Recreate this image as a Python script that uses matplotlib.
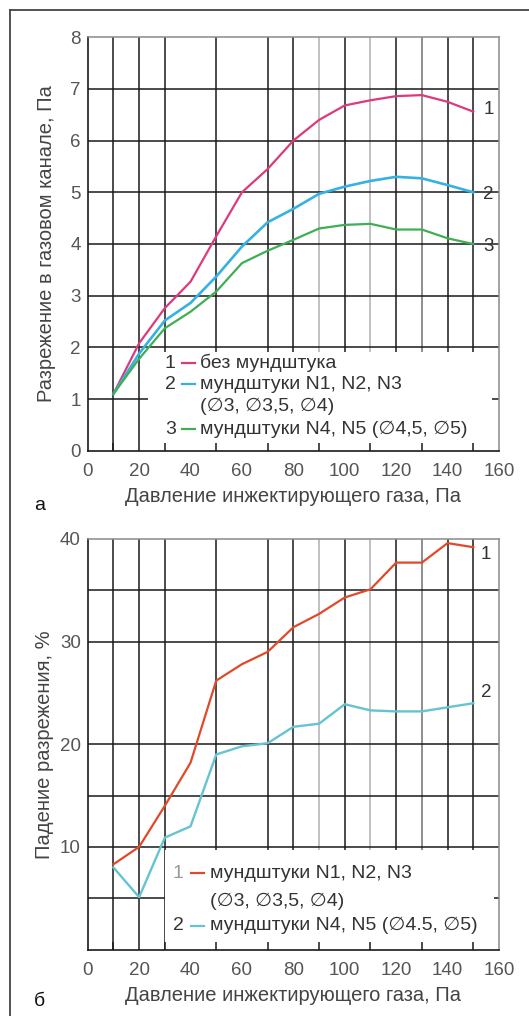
import matplotlib
matplotlib.use("Agg")
import matplotlib.pyplot as plt
from matplotlib.patches import Rectangle
from matplotlib.lines import Line2D

plt.rcParams['font.family'] = ['Liberation Sans', 'DejaVu Sans']

# ---------------- data ----------------
pressure = [10, 20, 30, 40, 50, 60, 70, 80, 90, 100, 110, 120, 130, 140, 150]

# chart a: vacuum in gas channel, Pa
vac_no_mouth = [1.1, 2.08, 2.76, 3.27, 4.15, 5.0, 5.45, 6.0, 6.4, 6.68, 6.78, 6.86, 6.88, 6.75, 6.56]
vac_n1_n3 = [1.1, 1.88, 2.52, 2.86, 3.37, 3.95, 4.42, 4.68, 4.97, 5.11, 5.22, 5.3, 5.27, 5.14, 5.0]
vac_n4_n5 = [1.1, 1.78, 2.37, 2.69, 3.08, 3.63, 3.87, 4.08, 4.3, 4.37, 4.39, 4.28, 4.28, 4.11, 4.0]

# chart b: vacuum drop, %
drop_n1_n3 = [8.3, 10.0, 14.0, 18.2, 26.2, 27.8, 29.0, 31.4, 32.7, 34.3, 35.1, 37.7, 37.7, 39.6, 39.2]
drop_n4_n5 = [8.0, 5.1, 10.9, 12.0, 19.0, 19.8, 20.1, 21.7, 22.0, 23.9, 23.3, 23.2, 23.2, 23.6, 24.0]

xticks = [0, 20, 40, 60, 80, 100, 120, 140, 160]
yticks_a = [0, 1, 2, 3, 4, 5, 6, 7, 8]
yticks_b = [10, 20, 30, 40]
vgrid = [10, 20, 30, 50, 70, 80, 90, 100, 110, 120, 130, 140, 150]
vgrid_light = [90, 110]
vgrid_mid = [130]
hgrid_a = [1, 2, 3, 4, 5, 6, 7]
hgrid_b = [5, 10, 15, 20, 30, 35]

xlabel = "Давление инжектирующего газа, Па"
ylabel_a = "Разрежение в газовом канале, Па"
ylabel_b = "Падение разрежения, %"

legend_a = [("1", "#dc3a7c", ["без мундштука"]),
            ("2", "#36b2e2", ["мундштуки N1, N2, N3", "(∅3, ∅3,5, ∅4)"]),
            ("3", "#3fae55", ["мундштуки N4, N5 (∅4,5, ∅5)"])]
legend_b = [("1", "#e04a2a", ["мундштуки N1, N2, N3", "(∅3, ∅3,5, ∅4)"]),
            ("2", "#66c3d2", ["мундштуки N4, N5 (∅4.5, ∅5)"])]

W, H = 529, 1016
fig = plt.figure(figsize=(W / 100, H / 100), dpi=100)

TICK_C = "#555555"
TXT_C = "#444444"
FS_TICK = 13.5
FS_LEG = 14
FS_LAB = 14.5

AX_L, AX_R = 87.7, 499.0


def fx(px):
    return px / W


def fy(py):
    return 1 - py / H


def axfx(px):
    return (px - AX_L) / (AX_R - AX_L)


def setup(ax, ymax, yticks, hgrid, legbox):
    ax.set_xlim(0, 160)
    ax.set_ylim(0, ymax)
    for x in vgrid:
        if x in vgrid_light:
            c = "#b0b0b0"
        elif x in vgrid_mid:
            c = "#707070"
        else:
            c = "#1a1a1a"
        ax.axvline(x, color=c, lw=1.1, zorder=1)
    for y in hgrid:
        ax.axhline(y, color="#1a1a1a", lw=1.1, zorder=1)
    ax.add_patch(Rectangle((legbox[0], legbox[1]), legbox[2], legbox[3],
                           transform=ax.transAxes, facecolor="white",
                           edgecolor="none", zorder=1.5))
    ax.set_xticks(xticks)
    ax.set_yticks(yticks)
    ax.set_xticks(vgrid, minor=True)
    ax.tick_params(axis="both", which="major", length=0, labelsize=FS_TICK,
                   labelcolor=TICK_C, pad=5)
    ax.tick_params(axis="x", which="major", pad=9)
    ax.tick_params(axis="x", which="minor", direction="in", length=6,
                   width=1.1, color="#1a1a1a")
    for s in ["left", "bottom"]:
        ax.spines[s].set_color("#1a1a1a")
        ax.spines[s].set_linewidth(1.2)
    for s in ["right", "top"]:
        ax.spines[s].set_color("#8a8a8a")
        ax.spines[s].set_linewidth(1.1)
    ax.set_axisbelow(False)


def draw_legend(ax, entries, xs, rows, num_colors):
    xn, xd0, xd1, xt = xs
    r = 0
    for (num, col, lines), nc in zip(entries, num_colors):
        y = rows[r]
        ax.text(xn, y, num, transform=ax.transAxes, fontsize=FS_LEG,
                color=nc, va="center", ha="left", zorder=4)
        ax.add_line(Line2D([xd0, xd1], [y, y], transform=ax.transAxes,
                           color=col, lw=1.6, zorder=4))
        for t in lines:
            ax.text(xt, rows[r], t, transform=ax.transAxes, fontsize=FS_LEG,
                    color="#333333", va="center", ha="left", zorder=4)
            r += 1


# -------- chart a --------
axa = fig.add_axes([fx(AX_L), fy(450.8), fx(AX_R) - fx(AX_L), fy(37.2) - fy(450.8)])
setup(axa, 8, yticks_a, hgrid_a, (0.147, 0.0, 0.835, 0.239))
axa.plot(pressure, vac_no_mouth, color=legend_a[0][1], lw=1.6, zorder=3)
axa.plot(pressure, vac_n1_n3, color=legend_a[1][1], lw=1.9, zorder=3)
axa.plot(pressure, vac_n4_n5, color=legend_a[2][1], lw=1.6, zorder=3)
for lab, ser in zip(["1", "2", "3"], [vac_no_mouth, vac_n1_n3, vac_n4_n5]):
    axa.text(156, ser[-1] + (0.05 if lab == "1" else -0.04), lab, fontsize=FS_TICK,
             color="#333333", ha="center", va="center", zorder=4)
draw_legend(axa, legend_a, (axfx(165), axfx(182), axfx(195), axfx(200)),
            [0.212, 0.1615, 0.108, 0.0527], ["#333333"] * 3)
axa.set_ylabel(ylabel_a, fontsize=FS_LAB, color=TXT_C, labelpad=10.5)
axa.set_xlabel(xlabel, fontsize=FS_LAB, color=TXT_C, labelpad=5)

# -------- chart b --------
axb = fig.add_axes([fx(AX_L), fy(949.5), fx(AX_R) - fx(AX_L), fy(539) - fy(949.5)])
setup(axb, 40, yticks_b, hgrid_b, (0.188, 0.0, 0.8, 0.242))
axb.plot(pressure, drop_n1_n3, color=legend_b[0][1], lw=1.6, zorder=3)
axb.plot(pressure, drop_n4_n5, color=legend_b[1][1], lw=1.7, zorder=3)
axb.text(155, 38.5, "1", fontsize=FS_TICK, color="#333333", ha="center", va="center", zorder=4)
axb.text(155, 25.0, "2", fontsize=FS_TICK, color="#333333", ha="center", va="center", zorder=4)
draw_legend(axb, legend_b, (axfx(173), axfx(191), axfx(204), axfx(210)),
            [0.186, 0.117, 0.058], ["#999999", "#333333"])
axb.set_ylabel(ylabel_b, fontsize=FS_LAB, color=TXT_C, labelpad=4.5)
axb.set_xlabel(xlabel, fontsize=FS_LAB, color=TXT_C, labelpad=5)

# panel letters
fig.text(fx(40), fy(505), "а", fontsize=14, color="#111111", ha="center", va="center")
fig.text(fx(39), fy(1001), "б", fontsize=14, color="#111111", ha="center", va="center")

# outer frame (top and left edges)
fig.add_artist(Line2D([fx(10), 1.0], [fy(10), fy(10)], transform=fig.transFigure,
                      color="#444444", lw=1.3))
fig.add_artist(Line2D([fx(10), fx(10)], [fy(10), 0.0], transform=fig.transFigure,
                      color="#444444", lw=1.3))

fig.savefig("out.png", dpi=100)
